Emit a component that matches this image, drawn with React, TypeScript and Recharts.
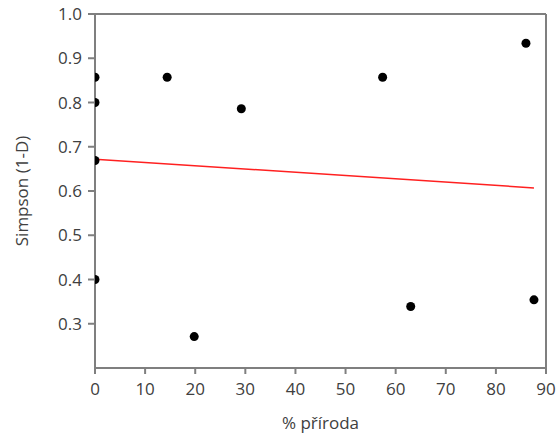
import React from "react";
import {
  ScatterChart,
  Scatter,
  XAxis,
  YAxis,
  ReferenceLine,
  Label,
} from "recharts";

// ---------------------------------------------------------------------------
// Data
// ---------------------------------------------------------------------------

const naturePct = [0, 0, 0, 0, 14.4, 19.8, 29.2, 57.4, 63.0, 86.0, 87.6];
const simpson = [0.857, 0.8, 0.669, 0.4, 0.857, 0.271, 0.786, 0.857, 0.339, 0.934, 0.354];

const fitX = [0, 87.6];
const fitY = [0.672, 0.607];

const xTicks = [0, 10, 20, 30, 40, 50, 60, 70, 80, 90];
const yTicks = [0.3, 0.4, 0.5, 0.6, 0.7, 0.8, 0.9, 1.0];

const points = naturePct.map((x, i) => ({ x, y: simpson[i] }));
const fitLine = fitX.map((x, i) => ({ x, y: fitY[i] }));

// ---------------------------------------------------------------------------
// Styles
// ---------------------------------------------------------------------------

const FONT = "'Open Sans', 'Noto Sans', sans-serif";
const TEXT = "#404040";
const AXIS = "#7f7f7f";
const SIZE = 17;

const tickStyle = { fill: TEXT, fontFamily: FONT, fontSize: SIZE };

export default function App() {
  return (
    <div style={{ position: "absolute", left: 0, top: 0, background: "#fff" }}>
      <ScatterChart
        width={559}
        height={441}
        margin={{ top: 14, right: 13, bottom: 43, left: 35 }}
      >
        <XAxis
          type="number"
          dataKey="x"
          domain={[0, 90]}
          ticks={xTicks}
          interval={0}
          tick={tickStyle}
          tickSize={6}
          tickMargin={9}
          stroke={AXIS}
          strokeWidth={2}
          height={30}
          allowDataOverflow
        >
          <Label
            value="% příroda"
            position="bottom"
            offset={19}
            style={{ fill: TEXT, fontFamily: FONT, fontSize: SIZE }}
          />
        </XAxis>
        <YAxis
          type="number"
          dataKey="y"
          domain={[0.2, 1.0]}
          ticks={yTicks}
          interval={0}
          tick={tickStyle}
          tickFormatter={(v: number) => v.toFixed(1)}
          tickSize={7}
          tickMargin={6}
          stroke={AXIS}
          strokeWidth={2}
          width={60}
          allowDataOverflow
        >
          <Label
            value="Simpson (1-D)"
            angle={-90}
            position="left"
            offset={13}
            style={{ fill: TEXT, fontFamily: FONT, fontSize: SIZE, textAnchor: "middle" }}
          />
        </YAxis>
        <ReferenceLine y={1.0} stroke={AXIS} strokeWidth={2} />
        <ReferenceLine x={90} stroke={AXIS} strokeWidth={2} />
        <Scatter
          data={fitLine}
          line={{ stroke: "#ff2020", strokeWidth: 1.5 }}
          shape={() => <g />}
          isAnimationActive={false}
        />
        <Scatter
          data={points}
          fill="#000"
          shape={(p: any) => <circle cx={p.cx} cy={p.cy} r={4.5} fill="#000" />}
          isAnimationActive={false}
        />
      </ScatterChart>
    </div>
  );
}
